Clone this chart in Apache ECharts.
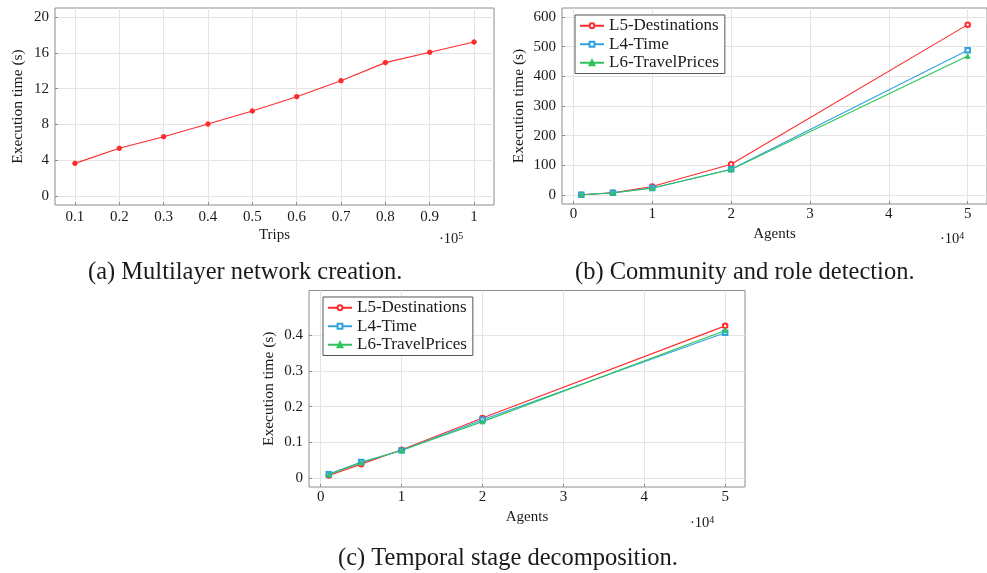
<!DOCTYPE html>
<html>
<head>
<meta charset="utf-8">
<script src="https://cdn.jsdelivr.net/npm/echarts@6/dist/echarts.min.js"></script>
<style>
html,body{margin:0;padding:0;background:#fff;}
#chart{width:987px;height:573px;}
</style>
</head>
<body>
<div id="chart"></div>
<script>
// ---- data (a) Multilayer network creation ----
const trips = [10000, 20000, 30000, 40000, 50000, 60000, 70000, 80000, 90000, 100000];
const creationTime = [3.65, 5.33, 6.63, 8.04, 9.5, 11.1, 12.88, 14.9, 16.05, 17.2];
// ---- data (b) Community and role detection ----
const agents = [1000, 5000, 10000, 20000, 50000];
const detectL5 = [1, 8, 29, 104, 574];
const detectL4 = [1, 8, 24, 87, 488];
const detectL6 = [1, 7, 23, 86, 468];
// ---- data (c) Temporal stage decomposition ----
const temporalL5 = [0.007, 0.039, 0.0795, 0.168, 0.426];
const temporalL4 = [0.011, 0.045, 0.077, 0.163, 0.407];
const temporalL6 = [0.010, 0.043, 0.078, 0.158, 0.413];
// ---- series names & ticks ----
const seriesNames = ['L5-Destinations', 'L4-Time', 'L6-TravelPrices'];
const ticksAx = [10000, 20000, 30000, 40000, 50000, 60000, 70000, 80000, 90000, 100000];
const ticksAy = [0, 4, 8, 12, 16, 20];
const ticksBx = [0, 10000, 20000, 30000, 40000, 50000];
const ticksBy = [0, 100, 200, 300, 400, 500, 600];
const ticksCy = [0, 0.1, 0.2, 0.3, 0.4];
const captions = ['(a) Multilayer network creation.', '(b) Community and role detection.', '(c) Temporal stage decomposition.'];

const FONT = '"Liberation Serif", "DejaVu Serif", serif';
const RED = '#ff2b2b', BLUE = '#2fa2dc', GREEN = '#2fc35e';
const GRIDC = '#e4e4e4', FRAME = '#8c8c8c', TXT = '#1a1a1a';

function fmt(v){ return String(+v.toFixed(3)); }

function xAxis(idx, min, max, ticks, div, name, margin){
  return {
    type:'value', gridIndex:idx, min:min, max:max,
    axisLine:{show:false, onZero:false},
    axisTick:{show:true, inside:true, length:3, lineStyle:{color:FRAME}, customValues:ticks},
    axisLabel:{customValues:ticks, formatter:v=>fmt(v/div), margin:margin, fontFamily:FONT, fontSize:15, color:TXT},
    splitLine:{show:true, lineStyle:{color:GRIDC, width:1}},
    name:name, nameLocation:'middle', nameGap:23,
    nameTextStyle:{fontFamily:FONT, fontSize:15, color:TXT}
  };
}
function yAxis(idx, min, max, ticks, name, gap){
  return {
    type:'value', gridIndex:idx, min:min, max:max,
    axisLine:{show:false, onZero:false},
    axisTick:{show:true, inside:true, length:3, lineStyle:{color:FRAME}, customValues:ticks},
    axisLabel:{customValues:ticks, formatter:v=>fmt(v), margin:6, fontFamily:FONT, fontSize:15, color:TXT},
    splitLine:{show:true, lineStyle:{color:GRIDC, width:1}},
    name:name, nameLocation:'middle', nameGap:gap, nameRotate:90,
    nameTextStyle:{fontFamily:FONT, fontSize:15.5, color:TXT}
  };
}
function line(name, xi, yi, xs, ys, color, symbol, size){
  return {
    name:name, type:'line', xAxisIndex:xi, yAxisIndex:yi,
    data: xs.map((x,i)=>[x, ys[i]]),
    symbol:symbol, symbolSize:size, showSymbol:true,
    lineStyle:{color:color, width:1.1},
    itemStyle:{color:color, borderColor:color, borderWidth:1},
    animation:false
  };
}
function legend(left, top){
  return {
    data:seriesNames, orient:'vertical', left:left, top:top,
    backgroundColor:'#fff', borderColor:'#555', borderWidth:1,
    padding:[2,6,2,4], itemGap:1, itemWidth:24, itemHeight:6,
    textStyle:{fontFamily:FONT, fontSize:17, color:TXT, lineHeight:17.5},
    selectedMode:false
  };
}
function sup(x, y, exp){
  return {type:'text', left:x, top:y, style:{
    text:'·10{s|'+exp+'}', fontFamily:FONT, fontSize:14.5, fill:TXT,
    rich:{s:{fontFamily:FONT, fontSize:10, verticalAlign:'top', padding:[0,0,6,0]}}
  }};
}
function cap(x, y, t){
  return {type:'text', left:x, top:y, style:{text:t, fontFamily:FONT, fontSize:24.5, fill:TXT}};
}

const chart = echarts.init(document.getElementById('chart'), null, {renderer:'canvas'});
chart.setOption({
  backgroundColor:'#fff',
  animation:false,
  grid:[
    {left:55, top:8, width:439, height:197, show:true, borderColor:FRAME, borderWidth:1, containLabel:false},
    {left:562, top:8, width:433, height:196, show:true, borderColor:FRAME, borderWidth:1, containLabel:false},
    {left:309, top:290.5, width:436, height:196.5, show:true, borderColor:FRAME, borderWidth:1, containLabel:false}
  ],
  xAxis:[
    xAxis(0, 5500, 104500, ticksAx, 1e5, 'Trips', 5),
    xAxis(1, -1450, 52450, ticksBx, 1e4, 'Agents', 3),
    xAxis(2, -1450, 52450, ticksBx, 1e4, 'Agents', 3)
  ],
  yAxis:[
    yAxis(0, -1, 21, ticksAy, 'Execution time (s)', 29),
    yAxis(1, -30, 630, ticksBy, 'Execution time (s)', 35),
    yAxis(2, -0.025, 0.525, ticksCy, 'Execution time (s)', 32)
  ],
  legend:[legend(575, 15), legend(323, 297)],
  series:[
    line('Creation', 0, 0, trips, creationTime, RED, 'circle', 4.5),
    line(seriesNames[0], 1, 1, agents, detectL5, RED, 'emptyCircle', 4.5),
    line(seriesNames[1], 1, 1, agents, detectL4, BLUE, 'emptyRect', 4.5),
    line(seriesNames[2], 1, 1, agents, detectL6, GREEN, 'triangle', 4.5),
    line(seriesNames[0], 2, 2, agents, temporalL5, RED, 'emptyCircle', 4.5),
    line(seriesNames[1], 2, 2, agents, temporalL4, BLUE, 'emptyRect', 4.5),
    line(seriesNames[2], 2, 2, agents, temporalL6, GREEN, 'triangle', 4.5)
  ],
  graphic:[
    sup(439, 231, 5), sup(940, 231, 4), sup(690, 515, 4),
    cap(88, 260, captions[0]), cap(575, 260, captions[1]), cap(338, 546, captions[2])
  ]
});
</script>
</body>
</html>
